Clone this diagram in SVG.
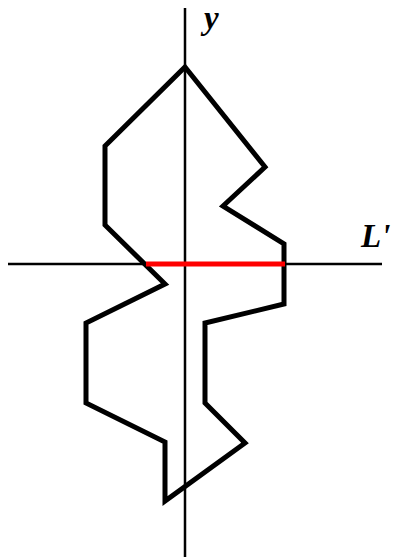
<svg xmlns="http://www.w3.org/2000/svg" width="396" height="557" viewBox="0 0 396 557">
<style>
.axis{stroke:#000;stroke-width:2.5;fill:none}
.shape{stroke:#000;stroke-width:5;fill:none;stroke-linejoin:miter}
.lbl{font-family:"Liberation Serif","DejaVu Serif",serif;font-style:italic;font-weight:bold;font-size:33px;fill:#000}
</style>
<rect width="396" height="557" fill="#fff"/>
<g id="connectors">
<line id="y-axis" class="axis" x1="185" y1="8" x2="185" y2="557"/>
<line id="x-axis" class="axis" x1="8" y1="264" x2="382" y2="264"/>
</g>
<g id="polygon">
<polygon class="shape" points="185,67 265,167 223,206 284,244 284,304 205,323 205,403 245,443 165,501 165,442 86,403 86,323 165,284 105,225 105,146"/>
</g>
<g id="chord">
<line x1="146" y1="264" x2="285" y2="264" stroke="#f00" stroke-width="5"/>
</g>
<g id="label-y"><text class="lbl" x="204" y="29">y</text></g>
<g id="label-L"><text class="lbl" x="361" y="247">L'</text></g>
</svg>
